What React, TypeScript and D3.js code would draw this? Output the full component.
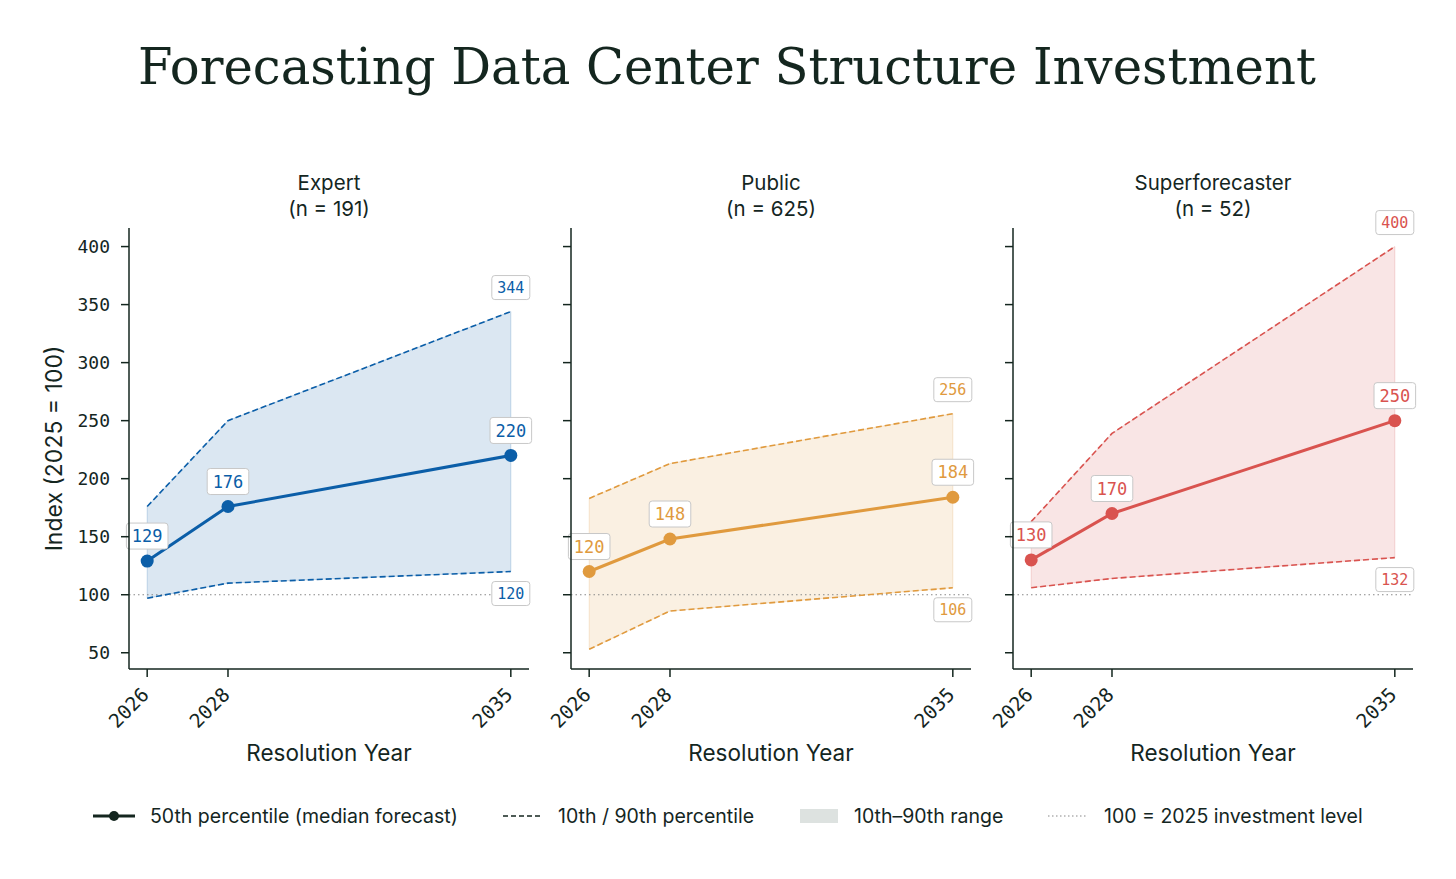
import * as d3 from 'd3';

const YEARS = [2026, 2028, 2035];
const GROUPS = ['Expert', 'Public', 'Superforecaster'];
const COUNTS = [191, 625, 52];
const COLORS = ['#0b5ea8', '#e09a3e', '#d9534f'];

const P50 = [
  [129, 176, 220],
  [120, 148, 184],
  [130, 170, 250],
];
const P10 = [
  [97, 110, 120],
  [53, 86, 106],
  [106, 114, 132],
];
const P90 = [
  [176, 250, 344],
  [183, 213, 256],
  [163, 239, 400],
];

const Y_TICKS = [50, 100, 150, 200, 250, 300, 350, 400];
const BASELINE = 100;

const LEGEND = [
  '50th percentile (median forecast)',
  '10th / 90th percentile',
  '10th\u201390th range',
  '100 = 2025 investment level',
];

const W = 1456;
const H = 879;
const TOP = 228;
const BOTTOM = 669;
const PANEL_W = 400;
const PANEL_LEFTS = [129, 571, 1013];
const INK = '#14261f';
const SANS = 'Inter, "DejaVu Sans", sans-serif';
const MONO = '"DejaVu Sans Mono", monospace';

const y = d3.scaleLinear().domain([36, 416]).range([BOTTOM, TOP]);

function Label({x, cy, text, color, size}: {x: number; cy: number; text: string; color: string; size: number}) {
  const w = text.length * size * 0.6 + 11;
  const h = size + 9;
  return (
    <g>
      <rect x={x - w / 2} y={cy - h / 2} width={w} height={h} rx={3} fill="white" stroke="#c8c8c8" strokeWidth={1} />
      <text x={x} y={cy} dy="0.36em" textAnchor="middle" fill={color} fontFamily={MONO} fontSize={size}>
        {text}
      </text>
    </g>
  );
}

function Panel({i}: {i: number}) {
  const left = PANEL_LEFTS[i];
  const x = d3.scaleLinear().domain([2025.55, 2035.45]).range([left, left + PANEL_W]);
  const color = COLORS[i];
  const idx = YEARS.map((_, k) => k);

  const area = d3
    .area<number>()
    .x((k) => x(YEARS[k]))
    .y0((k) => y(P10[i][k]))
    .y1((k) => y(P90[i][k]));
  const line = (vals: number[]) =>
    d3
      .line<number>()
      .x((k) => x(YEARS[k]))
      .y((k) => y(vals[k]))(idx)!;

  const last = YEARS.length - 1;
  const cx = left + PANEL_W / 2;

  return (
    <g>
      <text x={cx} y={190} textAnchor="middle" fontFamily={SANS} fontSize={20.5} fill={INK}>
        {GROUPS[i]}
      </text>
      <text x={cx} y={216} textAnchor="middle" fontFamily={SANS} fontSize={20.5} fill={INK}>
        (n = {COUNTS[i]})
      </text>

      <path d={area(idx)!} fill={color} fillOpacity={0.15} stroke={color} strokeOpacity={0.2} strokeWidth={1} />
      <line
        x1={left}
        x2={left + PANEL_W}
        y1={y(BASELINE)}
        y2={y(BASELINE)}
        stroke="#888"
        strokeWidth={1.2}
        strokeDasharray="1.5 3"
      />
      <path d={line(P10[i])} fill="none" stroke={color} strokeWidth={1.6} strokeDasharray="6 3" />
      <path d={line(P90[i])} fill="none" stroke={color} strokeWidth={1.6} strokeDasharray="6 3" />
      <path d={line(P50[i])} fill="none" stroke={color} strokeWidth={3} />
      {idx.map((k) => (
        <circle key={k} cx={x(YEARS[k])} cy={y(P50[i][k])} r={6.5} fill={color} />
      ))}

      {idx.map((k) => (
        <Label key={k} x={x(YEARS[k])} cy={y(P50[i][k]) - 25} text={String(P50[i][k])} color={color} size={17} />
      ))}
      <Label x={x(YEARS[last])} cy={y(P90[i][last]) - 24} text={String(P90[i][last])} color={color} size={15} />
      <Label x={x(YEARS[last])} cy={y(P10[i][last]) + 22} text={String(P10[i][last])} color={color} size={15} />

      {/* axes */}
      <line x1={left} x2={left} y1={TOP} y2={BOTTOM} stroke={INK} strokeWidth={1.5} />
      <line x1={left} x2={left + PANEL_W} y1={BOTTOM} y2={BOTTOM} stroke={INK} strokeWidth={1.5} />
      {Y_TICKS.map((t) => (
        <g key={t}>
          <line x1={left - 8} x2={left} y1={y(t)} y2={y(t)} stroke={INK} strokeWidth={1.5} />
          {i === 0 && (
            <text x={left - 19} y={y(t)} dy="0.36em" textAnchor="end" fontFamily={MONO} fontSize={18} fill={INK}>
              {t}
            </text>
          )}
        </g>
      ))}
      {YEARS.map((yr) => (
        <g key={yr}>
          <line x1={x(yr)} x2={x(yr)} y1={BOTTOM} y2={BOTTOM + 8} stroke={INK} strokeWidth={1.5} />
          <text
            transform={`translate(${x(yr) + 3},${BOTTOM + 27}) rotate(-45)`}
            textAnchor="end"
            fontFamily={MONO}
            fontSize={19.5}
            fill={INK}
          >
            {yr}
          </text>
        </g>
      ))}
      <text x={cx} y={761} textAnchor="middle" fontFamily={SANS} fontSize={22.5} fill={INK}>
        Resolution Year
      </text>
    </g>
  );
}

function Legend() {
  const ly = 816;
  return (
    <g fontFamily={SANS} fontSize={19.5} fill={INK}>
      <line x1={93} x2={135} y1={ly} y2={ly} stroke={INK} strokeWidth={3} />
      <circle cx={114} cy={ly} r={5} fill={INK} />
      <text x={150} y={ly} dy="0.35em">{LEGEND[0]}</text>

      <line x1={503} x2={541} y1={ly} y2={ly} stroke={INK} strokeWidth={1.5} strokeDasharray="5 3" />
      <text x={558} y={ly} dy="0.35em">{LEGEND[1]}</text>

      <rect x={800} y={ly - 7} width={38} height={14} fill="#dde2e0" />
      <text x={854} y={ly} dy="0.35em">{LEGEND[2]}</text>

      <line x1={1048} x2={1087} y1={ly} y2={ly} stroke="#888" strokeWidth={1.2} strokeDasharray="1.5 2.5" />
      <text x={1104} y={ly} dy="0.35em">{LEGEND[3]}</text>
    </g>
  );
}

export default function App() {
  return (
    <svg width={W} height={H} style={{position: 'absolute', left: 0, top: 0}} viewBox={`0 0 ${W} ${H}`}>
      <rect width={W} height={H} fill="white" />
      <text x={W / 2 - 1} y={84} textAnchor="middle" fontFamily='"DejaVu Serif", serif' fontSize={49.7} fill={INK}>
        Forecasting Data Center Structure Investment
      </text>
      <text
        transform={`translate(62,${(TOP + BOTTOM) / 2}) rotate(-90)`}
        textAnchor="middle"
        fontFamily={SANS}
        fontSize={23}
        fill={INK}
      >
        Index (2025 = 100)
      </text>
      {GROUPS.map((_, i) => (
        <Panel key={i} i={i} />
      ))}
      <Legend />
    </svg>
  );
}
